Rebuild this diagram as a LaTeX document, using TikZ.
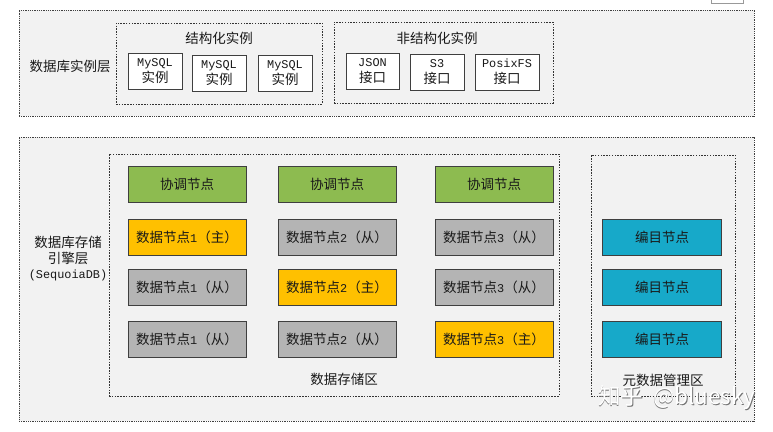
\documentclass[tikz,border=0pt]{standalone}
\usepackage{fontspec}
\setmainfont{Noto Sans CJK SC}
\setmonofont[Scale=0.88]{Liberation Mono}
\newcommand{\lat}[1]{{\ttfamily #1}}
\definecolor{panel}{HTML}{F2F2F2}
\definecolor{edge}{HTML}{3F3F3F}
\definecolor{greenn}{HTML}{8DBB50}
\definecolor{goldn}{HTML}{FFC000}
\definecolor{grayn}{HTML}{B4B4B4}
\definecolor{bluen}{HTML}{17A9C9}
\newcommand{\bx}[7][]{\node[#2,minimum width=#5 pt,minimum height=#6 pt,#1] (#3) at (#4) {#7};}
\tikzset{
  x=1pt,y=-1pt,
  every node/.style={inner sep=0pt,outer sep=0pt,font=\fontsize{13.5}{16}\selectfont,text=black!90,align=center},
  outer/.style={draw=black!75,densely dotted,line width=.8pt,fill=panel,rectangle},
  zone/.style={draw=black!80,densely dashed,dash pattern=on 1.5pt off 1.3pt,line width=.7pt,fill=panel,rectangle},
  whitebox/.style={draw=edge,line width=1pt,fill=white,rectangle},
  greenbox/.style={draw=edge,line width=.8pt,fill=greenn,rectangle},
  goldbox/.style={draw=edge,line width=.8pt,fill=goldn,rectangle},
  graybox/.style={draw=edge,line width=.8pt,fill=grayn,rectangle},
  bluebox/.style={draw=edge,line width=.8pt,fill=bluen,rectangle},
  mark text/.style={font=\fontsize{22.5}{25}\selectfont},
}
\begin{document}
\begin{tikzpicture}
\useasboundingbox (0,0) rectangle (773,431);
% corner fragment
\node[draw=black!40,line width=.7pt,fill=white,rectangle,minimum width=32pt,minimum height=8pt] (corner) at (727,-1) {};
% panels
\node[outer,minimum width=735pt,minimum height=106pt] (top) at (386.5,63) {};
\node[outer,minimum width=735pt,minimum height=284pt] (bottom) at (386.5,279) {};
\node[zone,minimum width=206pt,minimum height=81pt] (structured) at (219,63.5) {};
\node[zone,minimum width=219pt,minimum height=81pt] (unstructured) at (443.5,62.5) {};
\node[zone,minimum width=450pt,minimum height=242pt] (storage) at (334,275) {};
\node[zone,minimum width=144pt,minimum height=241pt] (meta) at (663,275.5) {};
% labels
\node (l1) at (70,66) {数据库实例层};
\node (l2) at (219,38) {结构化实例};
\node (l3) at (437,38) {非结构化实例};
\node (l4) at (68,259) {数据库存储\\[0pt]引擎层\\[-1pt]\lat{(SequoiaDB)}};
\node (l5) at (344,379) {数据存储区};
\node (l6) at (663,380) {元数据管理区};
% instance boxes
\bx{whitebox}{m1}{155,71}{54}{36}{\lat{MySQL}\\实例}
\bx{whitebox}{m2}{219,73}{54}{36}{\lat{MySQL}\\实例}
\bx{whitebox}{m3}{285,73}{54}{36}{\lat{MySQL}\\实例}
\bx{whitebox}{j}{372.5,71}{53}{36}{\lat{JSON}\\接口}
\bx{whitebox}{s}{437,72}{54}{36}{\lat{S3}\\接口}
\bx{whitebox}{p}{507,72}{64}{36}{\lat{PosixFS}\\接口}
% coordinators
\bx{greenbox}{c1}{187,184}{118}{36}{协调节点}
\bx{greenbox}{c2}{337,184}{118}{36}{协调节点}
\bx{greenbox}{c3}{494,184}{118}{36}{协调节点}
% data nodes
\bx{goldbox}{d11}{187,237}{118}{36}{数据节点\lat{1}（主）}
\bx{graybox}{d21}{337,237}{118}{36}{数据节点\lat{2}（从）}
\bx{graybox}{d31}{494,237}{118}{36}{数据节点\lat{3}（从）}
\bx{graybox}{d12}{187,287}{118}{36}{数据节点\lat{1}（从）}
\bx{goldbox}{d22}{337,287}{118}{36}{数据节点\lat{2}（主）}
\bx{graybox}{d32}{494,287}{118}{36}{数据节点\lat{3}（从）}
\bx{graybox}{d13}{187,339}{118}{36}{数据节点\lat{1}（从）}
\bx{graybox}{d23}{337,339}{118}{36}{数据节点\lat{2}（从）}
\bx{goldbox}{d33}{494,339}{118}{36}{数据节点\lat{3}（主）}
% catalog
\bx{bluebox}{k1}{662,237}{119}{36}{编目节点}
\bx{bluebox}{k2}{662,287}{119}{36}{编目节点}
\bx{bluebox}{k3}{662,339}{119}{36}{编目节点}
% watermark
\node[mark text,text=black!55,anchor=west] (wms) at (598.8,398.8) {知乎\ \ @bluesky};
\node[mark text,text=white,anchor=west] (wm) at (598,398) {知乎\ \ @bluesky};
\end{tikzpicture}
\end{document}
